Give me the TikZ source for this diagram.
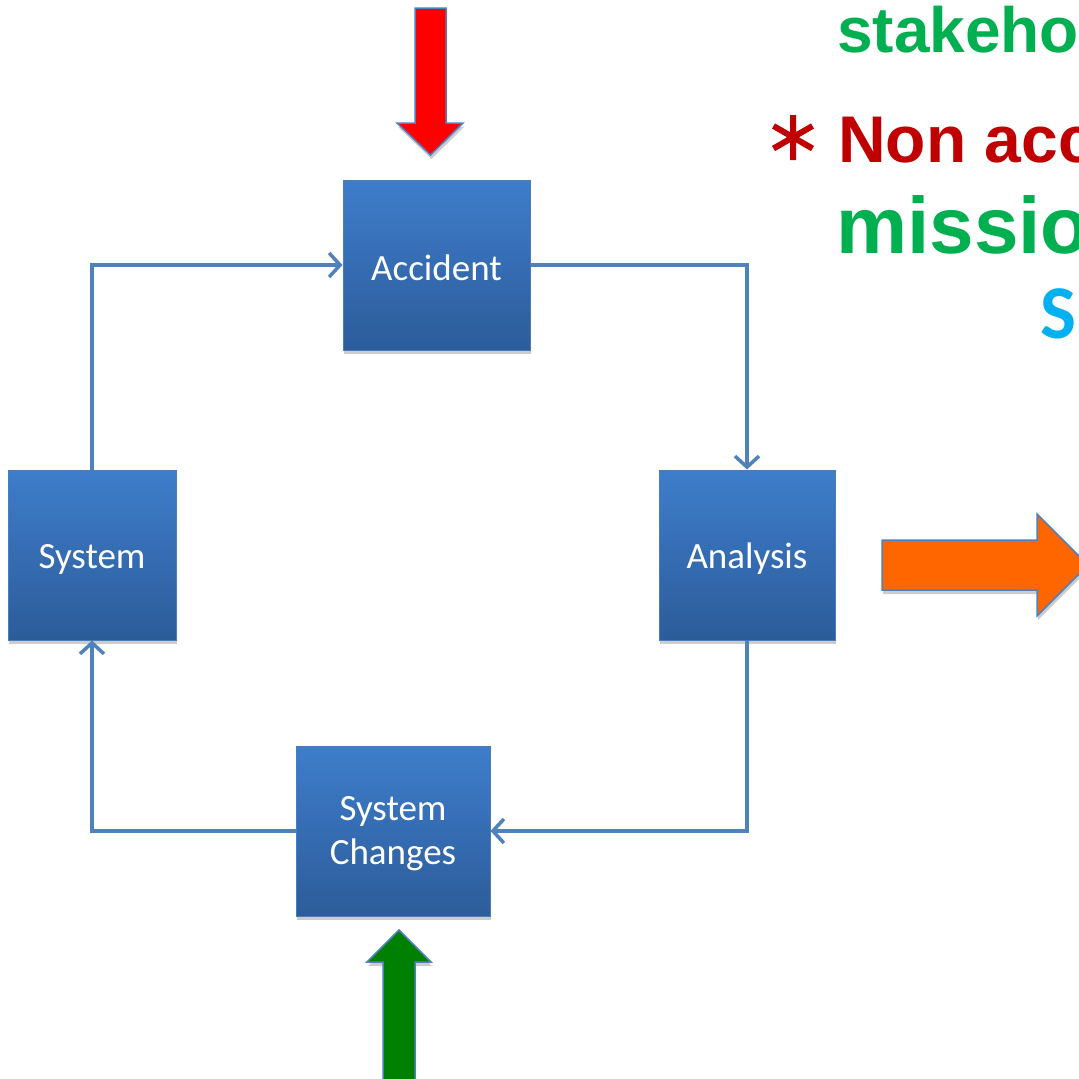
\documentclass[tikz,border=0pt]{standalone}
\usepackage{fontspec}
\setmainfont{Carlito}
\newfontfamily\arialbf[BoldFont={* Bold}]{Liberation Sans}
\usetikzlibrary{arrows.meta,shadows}
\definecolor{boxtop}{HTML}{3E7DCB}
\definecolor{boxbot}{HTML}{2C5C9A}
\definecolor{boxedge}{HTML}{4A7EBB}
\definecolor{linkblue}{HTML}{4F81BD}
\definecolor{pptgreen}{HTML}{00B050}
\definecolor{pptred}{HTML}{C00000}
\definecolor{pptcyan}{HTML}{00B0F0}
\definecolor{arrowred}{HTML}{FF0000}
\definecolor{arrowgreen}{HTML}{008000}
\definecolor{arroworange}{HTML}{FF6600}
\begin{document}
\begin{tikzpicture}[x=1pt,y=-1pt,
  stagebox/.style={rectangle, minimum width=#1, minimum height=170pt, inner sep=0pt,
    top color=boxtop, bottom color=boxbot, draw=boxedge, line width=1pt,
    text=white, font=\fontsize{37}{44}\selectfont, align=center,
    drop shadow={shadow xshift=1pt, shadow yshift=-4pt, opacity=0.2, fill=black}},
  link/.style={draw=linkblue, line width=3.5pt,
    -{Straight Barb[length=11pt, width=24pt, line width=3.5pt]}},
  blockarrow/.style={draw=linkblue, line width=1.5pt, line join=miter,
    drop shadow={shadow xshift=1pt, shadow yshift=-4pt, opacity=0.2, fill=black}},
  headline/.style={anchor=base west, inner sep=0pt, font=\arialbf\bfseries}
]
\useasboundingbox (0,0) rectangle (1079,1079);
\clip (0,0) rectangle (1079,1079);
\fill[white] (0,0) rectangle (1079,1079);

% the four stages of the cycle
\node[stagebox=187pt] (accident) at (436.5,265) {};
\node[stagebox=168pt] (system)   at (92,555)    {};
\node[stagebox=176pt] (analysis) at (747,555)   {};
\node[stagebox=194pt] (changes)  at (393,831)   {};
\node[text=white, font=\fontsize{37}{44}\selectfont] (accidentlbl) at ([yshift=-3pt]accident.center) {Accident};
\node[text=white, font=\fontsize{37}{44}\selectfont] (systemlbl) at ([yshift=-4pt]system.center) {System};
\node[text=white, font=\fontsize{37}{44}\selectfont] (analysislbl) at ([yshift=-4pt]analysis.center) {Analysis};
\node[text=white, font=\fontsize{37}{44}\selectfont, align=center] (changeslbl) at ([yshift=-3pt]changes.center) {System\\Changes};

% cycle connectors
\draw[link] (system.north) |- (accident.west);
\draw[link] (accident.east) -| (analysis.north);
\draw[link] (analysis.south) |- (changes.east);
\draw[link] (changes.west) -| (system.south);

% block arrows
\draw[blockarrow, fill=arrowred]
  (415,8) -- (446,8) -- (446,123) -- (463,123) -- (430.5,155) -- (397,123) -- (415,123) -- cycle;
\draw[blockarrow, fill=arrowgreen]
  (383,1090) -- (383,962) -- (367,962) -- (399,930) -- (431,962) -- (415,962) -- (415,1090) -- cycle;
\draw[blockarrow, fill=arroworange]
  (882,540) -- (1037,540) -- (1037,514) -- (1088,565) -- (1037,616) -- (1037,590) -- (882,590) -- cycle;

% headline text on the right
\node[headline, text=pptgreen, font=\arialbf\bfseries\fontsize{64}{70}\selectfont] (stake) at (837,52) {stakeho};
\draw[pptred, line width=6pt]
  (793,115) -- (793,160)
  (773.5,126) -- (812.5,148.5)
  (773.5,148.5) -- (812.5,126);
\node[headline, text=pptred, font=\arialbf\bfseries\fontsize{66}{70}\selectfont] (nonacc) at (838,162) {Non acc};
\node[headline, text=pptgreen, font=\arialbf\bfseries\fontsize{80}{86}\selectfont] (mission) at (836,253) {missio};
\node[anchor=base west, inner sep=0pt, text=pptcyan, font=\bfseries\fontsize{76}{80}\selectfont] (sline) at (1040,338) {S};
\end{tikzpicture}
\end{document}
